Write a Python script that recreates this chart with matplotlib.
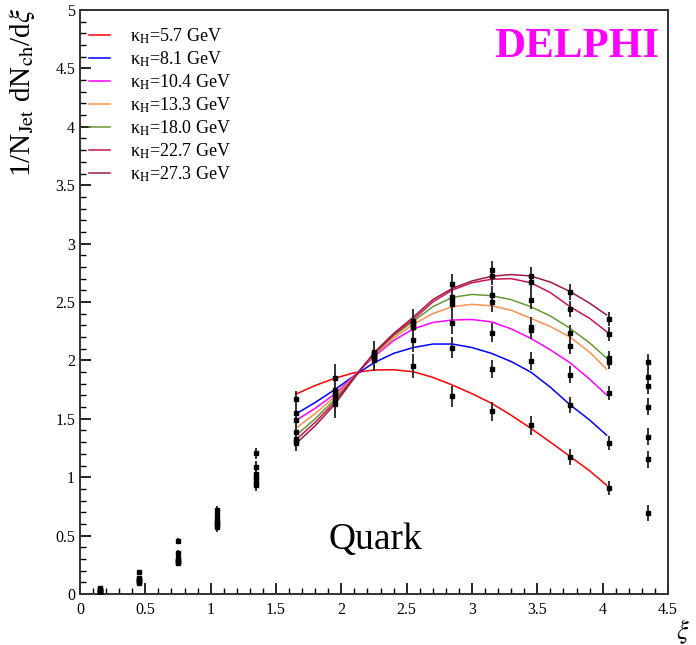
import numpy as np
import matplotlib
matplotlib.use("Agg")
import matplotlib.pyplot as plt
from matplotlib.ticker import MultipleLocator

plt.rcParams['font.family'] = ['Liberation Serif', 'DejaVu Serif']
plt.rcParams['mathtext.fontset'] = 'stix'

# xi bin centres of the measured spectra
xi_bins = [0.15, 0.45, 0.75, 1.05, 1.35, 1.65, 1.95, 2.25, 2.55, 2.85, 3.15, 3.45, 3.75, 4.05, 4.35]
xi_err = [0.01, 0.015, 0.025, 0.035, 0.05, 0.07, 0.12, 0.09, 0.1, 0.09, 0.08, 0.08, 0.07, 0.06, 0.07]

kappa_labels = ['5.7', '8.1', '10.4', '13.3', '18.0', '22.7', '27.3']
kappa_colors = ['#ff0000', '#0000ff', '#ff00ff', '#ff9055', '#669933', '#cc1450', '#a01848']

# measured 1/N dN/dxi, one list per kappa_H
data_57 = [0.055, 0.186, 0.454, 0.722, 1.204, 1.672, 1.847, 2.000, 1.952, 1.693, 1.564, 1.444, 1.173, 0.908, 0.693]
data_81 = [0.045, 0.134, 0.348, 0.676, 1.085, 1.552, 1.747, 2.018, 2.175, 2.109, 1.926, 1.995, 1.618, 1.290, 1.153]
data_104 = [0.035, 0.125, 0.305, 0.642, 1.027, 1.490, 1.724, 2.030, 2.285, 2.320, 2.237, 2.260, 1.878, 1.718, 1.347]
data_133 = [0.028, 0.118, 0.291, 0.614, 1.000, 1.384, 1.704, 2.040, 2.290, 2.483, 2.497, 2.289, 2.121, 1.986, 1.604]
data_180 = [0.022, 0.110, 0.284, 0.600, 0.973, 1.330, 1.684, 2.055, 2.310, 2.517, 2.560, 2.517, 2.232, 2.018, 1.781]
data_227 = [0.017, 0.103, 0.277, 0.588, 0.950, 1.313, 1.665, 2.065, 2.330, 2.546, 2.723, 2.671, 2.440, 2.229, 1.860]
data_273 = [0.013, 0.097, 0.262, 0.570, 0.933, 1.295, 1.627, 2.075, 2.340, 2.652, 2.774, 2.723, 2.583, 2.352, 1.989]

# fitted curves, read on a 0.15 grid over the fit range
fit_xi = [1.65, 1.80, 1.95, 2.10, 2.25, 2.40, 2.55, 2.70, 2.85, 3.00, 3.15, 3.30, 3.45, 3.60, 3.75, 3.90, 4.03]
fit_57 = [1.71, 1.785, 1.847, 1.895, 1.918, 1.92, 1.903, 1.855, 1.789, 1.715, 1.633, 1.53, 1.419, 1.30, 1.178, 1.055, 0.932]
fit_81 = [1.54, 1.64, 1.75, 1.87, 1.98, 2.06, 2.11, 2.14, 2.14, 2.11, 2.06, 1.99, 1.90, 1.77, 1.62, 1.49, 1.36]
fit_104 = [1.484, 1.59, 1.712, 1.87, 2.032, 2.17, 2.269, 2.325, 2.346, 2.35, 2.33, 2.27, 2.189, 2.09, 1.98, 1.84, 1.704]
fit_133 = [1.418, 1.545, 1.689, 1.865, 2.043, 2.19, 2.309, 2.40, 2.46, 2.48, 2.467, 2.43, 2.36, 2.29, 2.20, 2.07, 1.926]
fit_180 = [1.355, 1.50, 1.667, 1.86, 2.052, 2.21, 2.335, 2.46, 2.54, 2.565, 2.554, 2.52, 2.46, 2.38, 2.275, 2.15, 2.02]
fit_227 = [1.318, 1.47, 1.644, 1.86, 2.06, 2.22, 2.35, 2.50, 2.603, 2.665, 2.695, 2.70, 2.665, 2.58, 2.46, 2.36, 2.246]
fit_273 = [1.285, 1.44, 1.624, 1.85, 2.066, 2.23, 2.37, 2.52, 2.617, 2.68, 2.72, 2.735, 2.723, 2.67, 2.59, 2.49, 2.389]

data_sets = [data_57, data_81, data_104, data_133, data_180, data_227, data_273]
fit_sets = [fit_57, fit_81, fit_104, fit_133, fit_180, fit_227, fit_273]

fig = plt.figure(figsize=(6.96, 6.45), dpi=100)
ax = fig.add_axes([80/696, 51/645, 588/696, 584/645])

for lab, col, fit in zip(kappa_labels, kappa_colors, fit_sets):
    ax.plot(fit_xi, fit, color=col, lw=1.1, label='\u03ba$_{\\rm H}$=' + lab + ' GeV')

for d in data_sets:
    ax.errorbar(xi_bins, d, yerr=xi_err, fmt='s', color='black', ms=3.0,
                ecolor='#333333', elinewidth=1.4, capsize=0, zorder=5)

ax.set_xlim(0, 4.5)
ax.set_ylim(0, 5)
ax.xaxis.set_major_locator(MultipleLocator(0.5))
ax.xaxis.set_minor_locator(MultipleLocator(0.1))
ax.yaxis.set_major_locator(MultipleLocator(0.5))
ax.yaxis.set_minor_locator(MultipleLocator(0.1))
ax.xaxis.set_major_formatter(plt.FuncFormatter(lambda v, p: '%g' % v))
ax.yaxis.set_major_formatter(plt.FuncFormatter(lambda v, p: '%g' % v))
ax.tick_params(which='both', direction='in', top=False, right=False, labelsize=11.5)
ax.tick_params(which='major', length=8, width=1.2)
ax.tick_params(which='minor', length=4, width=1.0)
ax.tick_params(axis='x', pad=6)
for s in ax.spines.values():
    s.set_linewidth(1.4)
    s.set_color('#333333')

leg = ax.legend(loc='upper left', bbox_to_anchor=(-0.003, 0.99), frameon=False,
                fontsize=13, handlelength=1.15, handletextpad=1.1,
                labelspacing=0.2, borderaxespad=0.2)

ax.text(0.985, 0.92, 'DELPHI', transform=ax.transAxes, ha='right', va='baseline',
        color='#ff00ff', fontsize=31, fontweight='bold')
ax.text(2.26, 0.385, 'Quark', ha='center', va='baseline', fontsize=27)

fig.text(22/696, 1 - 8/645, r'1/N$_{\rm Jet}$ dN$_{\rm ch}$/d$\xi$', rotation=90,
         ha='center', va='top', fontsize=21)
fig.text(683/696, 1 - 632/645, r'$\xi$', ha='center', va='center', fontsize=19)

fig.savefig('out.png', dpi=100)
